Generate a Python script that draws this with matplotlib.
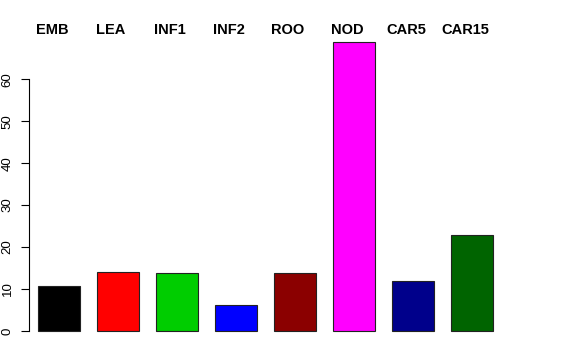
import matplotlib
matplotlib.use('Agg')
import matplotlib.pyplot as plt
from matplotlib.transforms import blended_transform_factory

plt.rcParams['font.family'] = ['Liberation Sans', 'DejaVu Sans']

categories = ['EMB', 'LEA', 'INF1', 'INF2', 'ROO', 'NOD', 'CAR5', 'CAR15']
values = [10.6, 14.0, 13.8, 6.1, 13.9, 68.8, 12.0, 22.8]
colors = ['#000000', '#FF0000', '#00CD00', '#0000FF', '#8B0000', '#FF00FF',
          '#00008B', '#006400']
yticks = [0, 10, 20, 30, 40, 50, 60]

fig = plt.figure(figsize=(5.76, 3.6), dpi=100)
W, H = 576, 360
ax = fig.add_axes([29 / W, 1 - 342.5 / H, (502 - 29) / W, (342.5 - 30.8) / H])

x = [0.9 + 1.4 * i for i in range(len(categories))]
ax.bar(x, values, width=1.0, color=colors, edgecolor='#222222', linewidth=0.8)

ax.set_xlim(0.186, 11.414)
ax.set_ylim(-0.04 * max(values), 1.04 * max(values))

for side in ('top', 'right', 'bottom'):
    ax.spines[side].set_visible(False)
ax.spines['left'].set_bounds(0, 60)
ax.spines['left'].set_linewidth(0.8)
ax.set_xticks([])
ax.set_yticks(yticks)
ax.tick_params(axis='y', length=6, width=0.8, pad=5, labelsize=9.5)
for lab in ax.get_yticklabels():
    lab.set_rotation(90)
    lab.set_va('center')

trans = blended_transform_factory(ax.transData, fig.transFigure)
for xi, name in zip(x, categories):
    ax.text(xi - 0.166, 1 - 30 / H, name, transform=trans, ha='center',
            va='center', fontsize=10.5, fontweight='bold')

fig.savefig('out.png', dpi=100, facecolor='white')
